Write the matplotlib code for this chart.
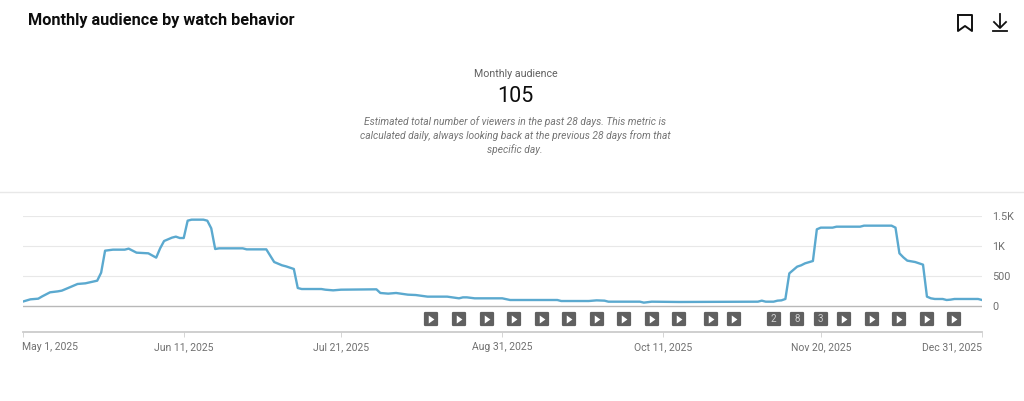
import numpy as np
import matplotlib
matplotlib.use("Agg")
import matplotlib.pyplot as plt
from matplotlib.markers import MarkerStyle

plt.rcParams['font.family'] = ['Roboto', 'DejaVu Sans']

# days counted from May 1, 2025
days = [0, 2, 4, 5, 7, 9, 10, 12, 14, 16, 19, 20, 21, 23, 26, 27, 29, 32, 34, 35, 36, 38, 39, 40, 41, 42, 43, 46,
        47, 48, 49, 50, 56, 57, 62, 64, 66, 67, 69, 70, 71, 76, 77, 79, 81, 90, 91, 93, 95, 98, 100, 103, 108,
        111, 112, 113, 115, 122, 124, 136, 137, 144, 146, 148, 149, 157, 158, 160, 167, 187, 188, 189, 191,
        192, 193, 194, 195, 196, 197, 198, 199, 201, 202, 203, 206, 207, 213, 214, 221, 222, 223, 224, 225,
        227, 229, 230, 231, 232, 234, 235, 236, 237, 243, 244]
audience = [72, 111, 122, 160, 228, 244, 256, 311, 367, 378, 422, 556, 922, 939, 939, 956, 889, 878, 806, 961,
            1083, 1139, 1156, 1133, 1133, 1422, 1439, 1439, 1422, 1294, 950, 961, 961, 944, 944, 733, 678, 661,
            617, 300, 283, 283, 272, 261, 272, 278, 217, 206, 217, 189, 183, 156, 156, 128, 144, 144, 128, 128,
            100, 100, 83, 83, 94, 89, 72, 72, 56, 72, 67, 72, 89, 72, 72, 89, 94, 117, 544, 600, 656, 678, 711,
            750, 1278, 1306, 1306, 1322, 1322, 1339, 1339, 1306, 878, 811, 756, 733, 689, 156, 128, 117, 117,
            100, 106, 117, 117, 100]

y_ticks = [0, 500, 1000, 1500]
y_labels = ['0', '500', '1K', '1.5K']
x_ticks = [0, 41, 81, 122, 163, 203, 244]
x_labels = ['May 1, 2025', 'Jun 11, 2025', 'Jul 21, 2025', 'Aug 31, 2025', 'Oct 11, 2025', 'Nov 20, 2025',
            'Dec 31, 2025']

video_days = [104, 111, 118, 125, 132, 139, 146, 153, 160, 167, 175, 181, 209, 216, 223, 230, 237]
count_days = [191, 197, 203]
count_labels = ['2', '8', '3']


def draw():
    fig = plt.figure(figsize=(10.24, 4.01), dpi=100)

    # overlay in pixel coordinates for the page furniture
    page = fig.add_axes([0, 0, 1, 1])
    page.set_xlim(0, 1024)
    page.set_ylim(401, 0)
    page.axis('off')
    page.text(28, 20, 'Monthly audience by watch behavior', fontsize=11.72, fontweight='bold',
              color='#0d0d0d', va='center')
    page.text(515.5, 74, 'Monthly audience', fontsize=7.7, color='#606060', ha='center', va='center')
    page.text(515.5, 96, '105', fontsize=15.5, color='#0d0d0d', ha='center', va='center')
    desc = ['Estimated total number of viewers in the past 28 days. This metric is',
            'calculated daily, always looking back at the previous 28 days from that',
            'specific day.']
    for y, line in zip([122, 136, 150], desc):
        page.text(515, y, line, fontsize=7.35, style='italic', color='#757575', ha='center', va='center')
    page.plot([0, 1024], [192, 192], color='#e8e8e8', lw=1)

    # bookmark and download icons
    page.plot([958, 958, 965, 972, 972, 958], [15, 31, 26, 31, 15, 15], color='#111111', lw=1.4,
              solid_joinstyle='round')
    page.plot([1000, 1000], [14, 27], color='#111111', lw=1.3)
    page.plot([994, 1000, 1006], [22, 28, 22], color='#111111', lw=1.3)
    page.plot([993, 1007], [30.5, 30.5], color='#111111', lw=1.3)

    # y=306 is 0 and y=216 is 1.5K, the lower part of the axes holds the markers
    ax = fig.add_axes([22.5 / 1024, (401 - 331.5) / 401, 959.5 / 1024, 115.5 / 401])
    ax.patch.set_alpha(0)
    ax.set_xlim(0, 244)
    ax.set_ylim(-425, 1500)
    for side in ['top', 'left', 'right']:
        ax.spines[side].set_visible(False)
    ax.spines['bottom'].set_color('#cccccc')
    ax.spines['bottom'].set_linewidth(1.3)

    for v in y_ticks[1:]:
        ax.axhline(v, color='#e8e8e8', lw=0.8, zorder=1)
    ax.axhline(0, color='#b8b8b8', lw=1.0, zorder=1)
    ax.plot(days, audience, color='#5ba9cf', lw=1.7, zorder=3, solid_joinstyle='round')

    box = MarkerStyle('s', joinstyle='round')
    play = [(-0.34, -0.5), (0.36, 0), (-0.34, 0.5)]
    marker_y = -215
    all_days = video_days + count_days
    ax.plot(all_days, [marker_y] * len(all_days), ls='none', marker=box, ms=8.6, mew=1.6, mfc='#606060',
            mec='#606060', zorder=4, clip_on=False)
    ax.plot(video_days, [marker_y] * len(video_days), ls='none', marker=play, ms=5.8, mew=0, mfc='white', zorder=5)
    for d, label in zip(count_days, count_labels):
        ax.text(d, marker_y, label, fontsize=7, color='#d0d0d0', ha='center', va='center', zorder=5)

    ax.yaxis.tick_right()
    ax.set_yticks(y_ticks)
    ax.set_yticklabels(y_labels, fontsize=7.8, color='#707070')
    ax.tick_params(axis='y', length=0, pad=7.5)
    ax.set_xticks(x_ticks)
    ax.set_xticklabels(x_labels, fontsize=7.5, color='#707070')
    ax.tick_params(axis='x', length=3.5, width=0.7, color='#d5d5d5', pad=4)
    tick_labels = ax.get_xticklabels()
    tick_labels[0].set_ha('left')
    tick_labels[-1].set_ha('right')

    fig.savefig('out.png', dpi=100)


draw()
